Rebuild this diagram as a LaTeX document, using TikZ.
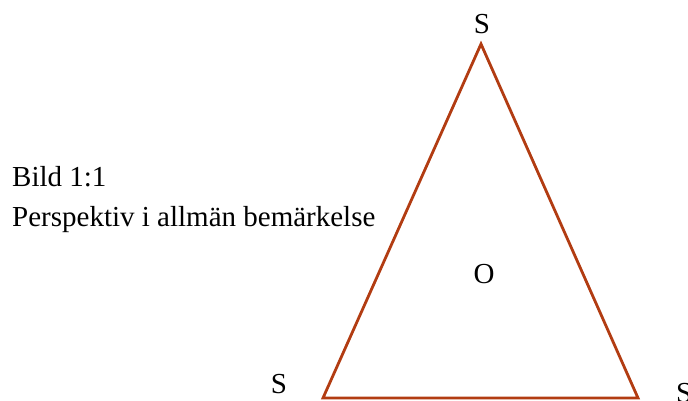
\documentclass[tikz,border=0pt]{standalone}
\usepackage{fontspec}
\setmainfont{Liberation Serif}
\definecolor{tri}{RGB}{178,60,18}
\begin{document}
\begin{tikzpicture}[x=1pt,y=-1pt,
  lbl/.style={inner sep=0pt,font=\fontsize{29}{35}\selectfont},
  edge/.style={draw=tri,line width=2.8pt,line join=miter}]
\useasboundingbox (0,0) rectangle (688,400);
\clip (0,0) rectangle (688,400);
\coordinate (A) at (481,44);
\coordinate (B) at (323,398);
\coordinate (C) at (638,398);
\draw[edge] (A) -- (B) -- (C) -- cycle;
\node[lbl,anchor=base] (sA) at (482,33) {S};
\node[lbl,anchor=base] (sB) at (279,393) {S};
\node[lbl,anchor=base west] (sC) at (676,402) {S};
\node[lbl,anchor=base] (o) at (484,283) {O};
\node[lbl,anchor=base west] (t1) at (12,186) {Bild 1:1};
\node[lbl,anchor=base west] (t2) at (12,226) {Perspektiv i allmän bemärkelse};
\end{tikzpicture}
\end{document}
